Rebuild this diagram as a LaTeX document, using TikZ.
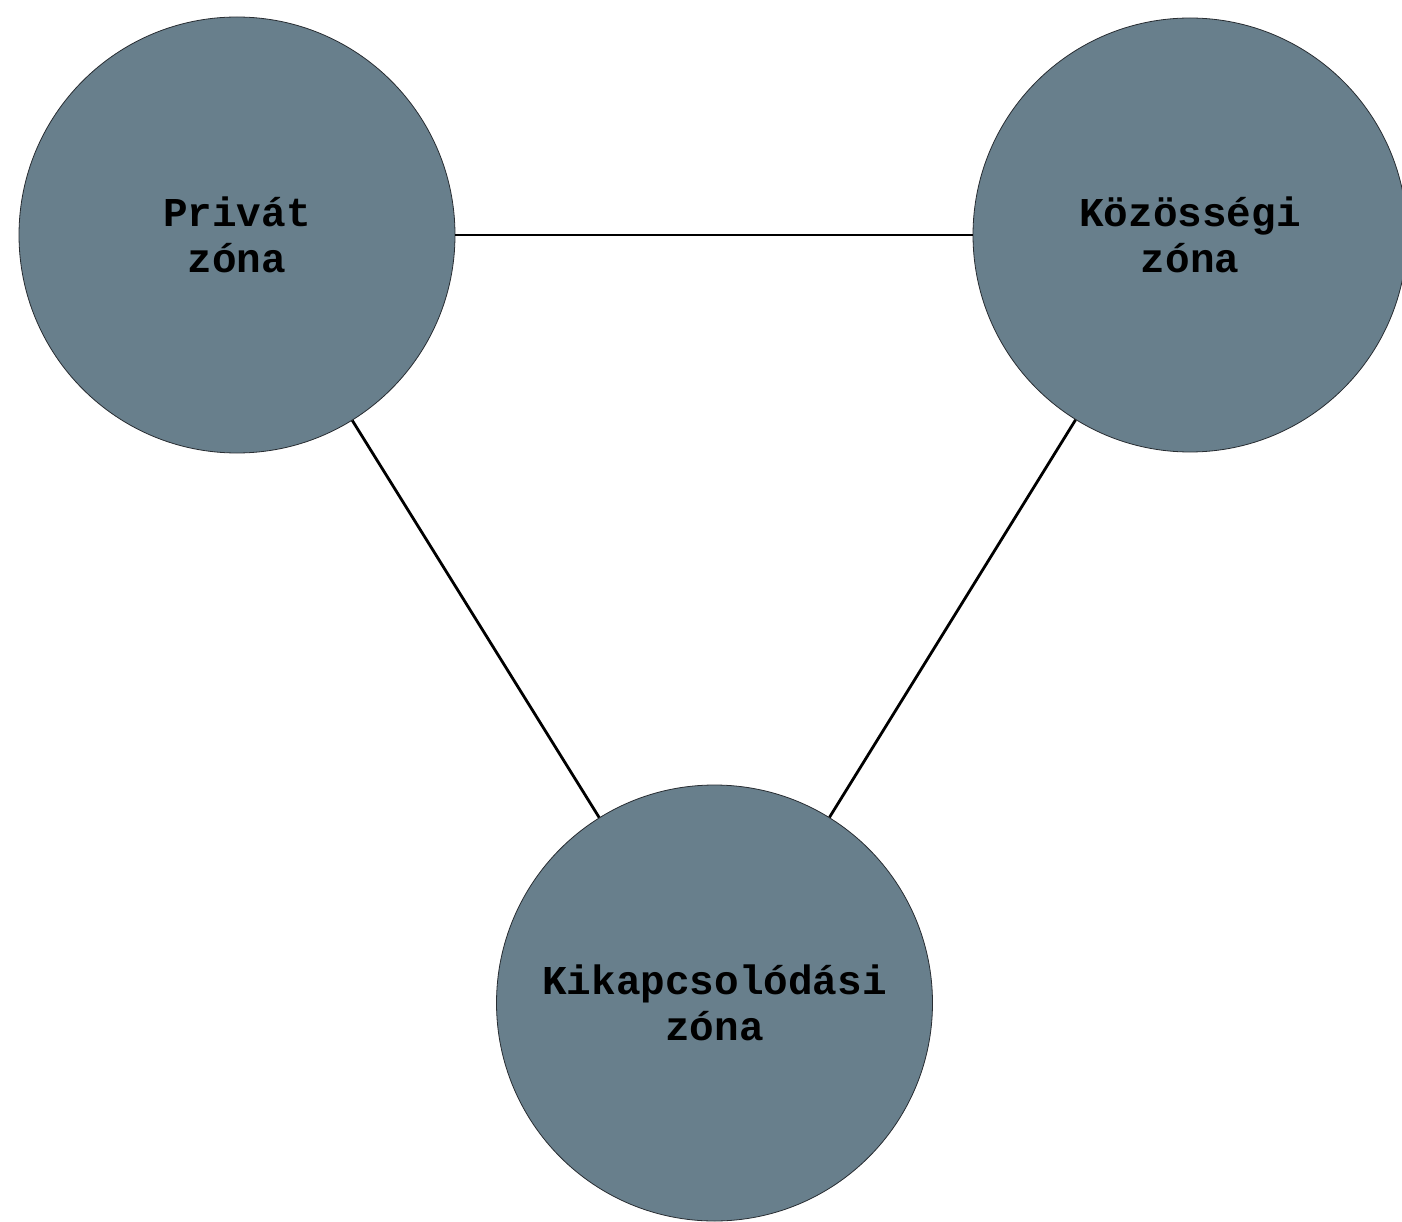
\documentclass[tikz,border=0pt]{standalone}
\usepackage{fontspec}
\setmonofont{Liberation Mono}
\definecolor{zonefill}{RGB}{104,127,140}
\definecolor{zoneline}{RGB}{40,45,50}
\tikzset{
  zone/.style={circle, draw=zoneline, line width=0.8pt, fill=zonefill,
    minimum size=436pt, inner sep=0pt, align=center,
    font=\ttfamily\bfseries\fontsize{41}{46}\selectfont},
  link/.style={line width=2.8pt, black}
}
\begin{document}
\begin{tikzpicture}[x=1pt,y=-1pt]
\path[use as bounding box] (0,0) rectangle (1402,1222);
\clip (0,0) rectangle (1402,1222);
\fill[white] (0,0) rectangle (1402,1222);
\node[zone] (priv) at (237,235) {Privát\\zóna};
\node[zone, minimum size=434pt] (koz) at (1190,235) {Közösségi\\zóna};
\node[zone] (kik) at (714.5,1003) {Kikapcsolódási\\zóna};
\draw[link] (priv) -- (koz);
\draw[link] (priv) -- (kik);
\draw[link] (koz) -- (kik);
\end{tikzpicture}
\end{document}
